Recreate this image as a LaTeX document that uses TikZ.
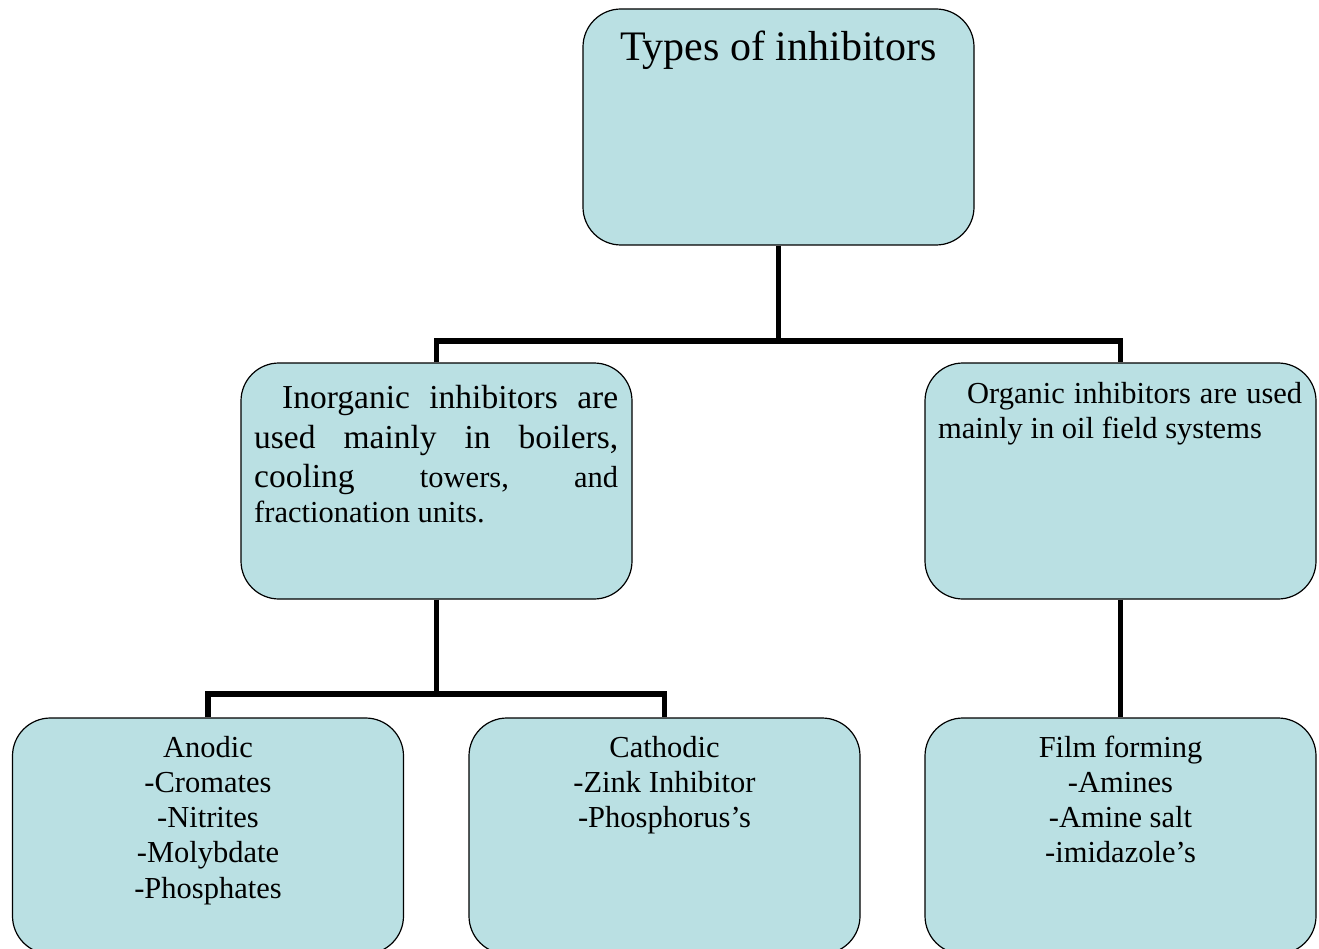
\documentclass[tikz,border=0pt]{standalone}
\usepackage{fontspec}
\setmainfont{Liberation Serif}
\definecolor{boxfill}{RGB}{186,224,227}
\newcommand\ftitle{\fontsize{42}{48}\selectfont}
\newcommand\fbig{\fontsize{33.5}{38.5}\selectfont}
\newcommand\fsmall{\fontsize{30.5}{35}\selectfont}
\begin{document}
\begin{tikzpicture}[x=1pt,y=-1pt,
  box/.style={draw=black,line width=1.2pt,fill=boxfill,rounded corners=38pt,
    minimum width=391pt,minimum height=236pt,inner sep=0pt},
  conn/.style={line width=5.5pt,line join=miter,line cap=butt},
  txt/.style={inner sep=0pt,anchor=base west},
  ctxt/.style={inner sep=0pt,anchor=base,font=\fsmall}]
\clip (0,0) rectangle (1319,949);
\fill[white] (0,0) rectangle (1319,949);
% boxes
\node[box] (top)  at (778.5,127) {};
\node[box] (midL) at (436.5,481) {};
\node[box] (midR) at (1120.5,481) {};
\node[box] (botL) at (208,836) {};
\node[box] (botM) at (664.5,836) {};
\node[box] (botR) at (1120.5,836) {};
% connectors
\coordinate (bus1) at (778.5,341);
\coordinate (bus2) at (436.5,694);
\draw[conn] (top.south) -- (bus1);
\draw[conn] (midL.north) -- (midL.north |- bus1) -- (midR.north |- bus1) -- (midR.north);
\draw[conn] (midL.south) -- (bus2);
\draw[conn] (botL.north) -- (botL.north |- bus2) -- (botM.north |- bus2) -- (botM.north);
\draw[conn] (midR.south) -- (botR.north);
% title
\node[inner sep=0pt,anchor=base,font=\ftitle] (ttl) at (778.5,61) {Types of inhibitors};
% inorganic text
\node[txt] (in1) at (254,408) {\hbox to 364pt{\fbig\hspace*{28pt}Inorganic\hfill inhibitors\hfill are}};
\node[txt] (in2) at (254,448) {\hbox to 364pt{\fbig used\hfill mainly\hfill in\hfill boilers,}};
\node[txt] (in3) at (254,487) {\hbox to 364pt{\fbig cooling\hfill\fsmall towers,\hfill and}};
\node[txt] (in4) at (254,522) {\fsmall fractionation units.};
% organic text
\node[txt] (or1) at (938,403) {\hbox to 364pt{\fsmall\hspace*{29pt}Organic\hfill inhibitors\hfill are\hfill used}};
\node[txt] (or2) at (938,438) {\fsmall mainly in oil field systems};
% bottom texts
\foreach \t [count=\i] in {Anodic,-Cromates,-Nitrites,-Molybdate,-Phosphates}
  \node[ctxt] (an\i) at (208,{757+35.25*(\i-1)}) {\t};
\foreach \t [count=\i] in {Cathodic,-Zink Inhibitor,-Phosphorus’s}
  \node[ctxt] (ca\i) at (664.5,{757+35.25*(\i-1)}) {\t};
\foreach \t [count=\i] in {Film forming,-Amines,-Amine salt,-imidazole’s}
  \node[ctxt] (fi\i) at (1120.5,{757+35.25*(\i-1)}) {\t};
\end{tikzpicture}
\end{document}
